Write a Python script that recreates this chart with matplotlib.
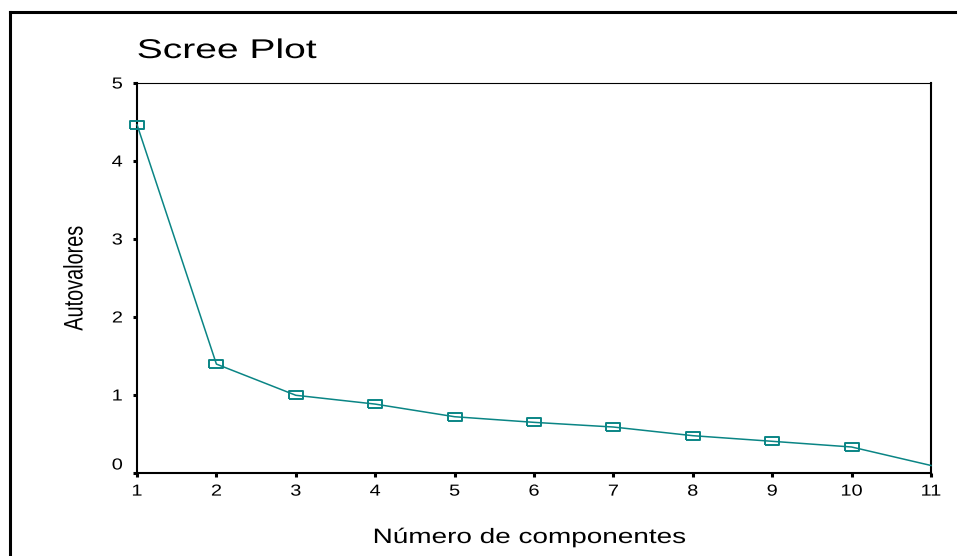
import numpy as np
import matplotlib
matplotlib.use("Agg")
from matplotlib import pyplot as plt
from matplotlib.lines import Line2D
from matplotlib.transforms import Affine2D
from matplotlib.patheffects import AbstractPathEffect

# Scree plot data (eigenvalues)
componentes = [1, 2, 3, 4, 5, 6, 7, 8, 9, 10, 11]
autovalores = [4.46, 1.39, 0.99, 0.877, 0.715, 0.643, 0.583, 0.472, 0.40, 0.327, 0.09]
y_ticks = [0, 1, 2, 3, 4, 5]

W, H = 958, 556
plt.rcParams['font.family'] = ['Liberation Sans', 'DejaVu Sans']


class Stretch(AbstractPathEffect):
    # the source image is stretched sideways, so widen the glyphs around their centre
    def __init__(self, sx=1.0, sy=1.0):
        super().__init__()
        self.sx, self.sy = sx, sy

    def draw_path(self, renderer, gc, tpath, affine, rgbFace=None):
        ext = tpath.get_extents()
        cx, cy = (ext.x0 + ext.x1) / 2, (ext.y0 + ext.y1) / 2
        t = Affine2D().translate(-cx, -cy).scale(self.sx, self.sy).translate(cx, cy) + affine
        renderer.draw_path(gc, tpath, t, rgbFace)


fig = plt.figure(figsize=(W / 100, H / 100), dpi=100)
ax = fig.add_axes([137 / W, 1 - 472.5 / H, 794 / W, 390 / H])

teal = "#0a8585"
rect = [(-1, -0.68), (1, -0.68), (1, 0.68), (-1, 0.68), (-1, -0.68)]
ax.plot(componentes, autovalores, color=teal, lw=1.1, marker=rect,
        markersize=9.5, markerfacecolor="none", markeredgecolor=teal,
        markeredgewidth=1.4, markevery=list(range(10)), clip_on=False, zorder=3)

ax.set_xlim(1, 11)
ax.set_ylim(0, 5)
ax.set_xticks(componentes)
ax.set_yticks(y_ticks)
ax.tick_params(direction="out", length=3, width=2.2, labelsize=11.5, color="black")
ax.tick_params(axis="x", pad=5)
ax.tick_params(axis="y", pad=8)
for lab in ax.get_xticklabels() + ax.get_yticklabels():
    lab.set_path_effects([Stretch(sx=1.25)])
ax.get_yticklabels()[0].set_va("bottom")

for s in ["left", "bottom", "right"]:
    ax.spines[s].set_linewidth(1.5)
ax.spines["top"].set_linewidth(0.8)

fig.text(227 / W, 1 - 58 / H, "Scree Plot", fontsize=19.5, va="baseline", ha="center",
         path_effects=[Stretch(sx=1.44)])
fig.text(530 / W, 1 - 543 / H, "Número de componentes", fontsize=15, va="baseline", ha="center",
         path_effects=[Stretch(sx=1.34)])
fig.text(74.5 / W, 1 - 278 / H, "Autovalores", fontsize=14.3, rotation=90, va="center", ha="center",
         path_effects=[Stretch(sy=1.35)])

# outer frame (left and top edges)
fig.add_artist(Line2D([10 / W, 10 / W], [0, 1 - 12 / H], color="black", lw=2.2, transform=fig.transFigure))
fig.add_artist(Line2D([10 / W, 955 / W], [1 - 12 / H, 1 - 12 / H], color="black", lw=2.2, transform=fig.transFigure))

fig.savefig("out.png", dpi=100)
